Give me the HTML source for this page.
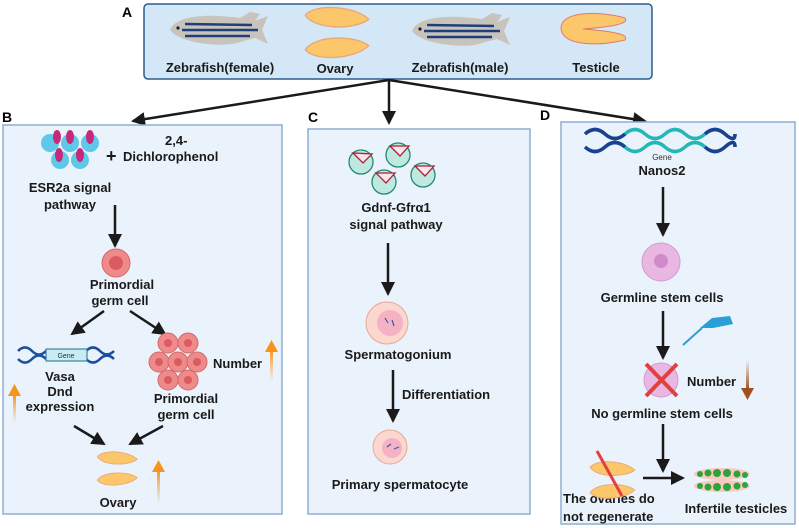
<!DOCTYPE html>
<html><head><meta charset="utf-8"><style>
html,body{margin:0;padding:0;background:#fff;}
svg{display:block;font-family:"Liberation Sans",Arial,sans-serif;font-weight:bold;}
</style></head><body>
<svg width="799" height="528" viewBox="0 0 799 528" xmlns="http://www.w3.org/2000/svg">
<defs>
<marker id="ah2" markerWidth="14" markerHeight="14" refX="12" refY="7" orient="auto" markerUnits="userSpaceOnUse"><path d="M0,0 L14,7 L0,14 z" fill="#1a1a1a"/></marker>
<linearGradient id="og" x1="0" y1="1" x2="0" y2="0"><stop offset="0" stop-color="#f7a53c" stop-opacity="0"/><stop offset="1" stop-color="#f7941d"/></linearGradient>
<linearGradient id="bg" x1="0" y1="0" x2="0" y2="1"><stop offset="0" stop-color="#a0522d" stop-opacity="0"/><stop offset="1" stop-color="#a0501e"/></linearGradient>
<g id="fish">
<path d="M-50,0 C-45,-14 -15,-17 20,-12 L30,-18 L40,-16 L35,-9 L48,-14 L42,0 L48,14 L35,8 L20,12 C5,18 -40,14 -50,0z" fill="#c8c3bb"/>
<path d="M-35,-6 L32,-5 M-38,0 L38,0 M-35,6 L30,6" stroke="#1f3f7a" stroke-width="2.5"/>
<circle cx="-42" cy="-2" r="1.6" fill="#222"/>
</g>
<g id="ov"><path d="M-22,-5 C-15,-14 15,-12 25,-2 C15,6 -15,6 -22,-5z" fill="#fcc66a" stroke="#e9a878" stroke-width="1"/></g>
</defs>

<!-- Panel A -->
<text x="122" y="17" font-size="14">A</text>
<rect x="144" y="4" width="508" height="75" rx="4" fill="#d4e7f7" stroke="#2b5d8c" stroke-width="1.5"/>
<use href="#fish" x="220" y="30"/>
<g transform="translate(335,22) scale(1.35)"><use href="#ov"/></g>
<g transform="translate(335,43) scale(1.35,-1.35)"><use href="#ov"/></g>
<use href="#fish" x="462" y="31"/>
<path d="M561,28 C562,9 605,12 625,18 C630,24 610,27 583,29 C610,31 630,34 625,40 C600,46 562,47 561,28z" fill="#fcc66a" stroke="#e07a6e" stroke-width="1"/>
<g font-size="13" text-anchor="middle" fill="#1a1a1a">
<text x="220" y="72">Zebrafish(female)</text>
<text x="335" y="73">Ovary</text>
<text x="460" y="72">Zebrafish(male)</text>
<text x="596" y="72">Testicle</text>
</g>
<g stroke="#1a1a1a" stroke-width="2.5" fill="none">
<line x1="389" y1="80" x2="133" y2="121" marker-end="url(#ah2)"/>
<line x1="389" y1="80" x2="389" y2="123" marker-end="url(#ah2)"/>
<line x1="389" y1="80" x2="645" y2="121" marker-end="url(#ah2)"/>
</g>

<!-- Panel B -->
<text x="2" y="122" font-size="14">B</text>
<rect x="3" y="125" width="279" height="389" fill="#eaf2fb" stroke="#8eaed3" stroke-width="1.5"/>
<g fill="#5ec8e8">
<circle cx="50" cy="143" r="9"/><circle cx="70" cy="143" r="9"/><circle cx="90" cy="143" r="9"/>
<circle cx="60" cy="160" r="9"/><circle cx="80" cy="160" r="9"/>
</g>
<g fill="#c8287c">
<ellipse cx="57" cy="137" rx="4" ry="7"/><ellipse cx="70" cy="137" rx="4" ry="7"/><ellipse cx="90" cy="137" rx="4" ry="7"/>
<ellipse cx="59" cy="155" rx="4" ry="7"/><ellipse cx="80" cy="155" rx="4" ry="7"/>
</g>
<g font-size="13" fill="#1a1a1a">
<text x="165" y="145">2,4-</text>
<text x="106" y="162" font-size="18">+</text>
<text x="123" y="161">Dichlorophenol</text>
<g text-anchor="middle">
<text x="70" y="192">ESR2a signal</text>
<text x="70" y="209">pathway</text>
<text x="122" y="289">Primordial</text>
<text x="120" y="305">germ cell</text>
<text x="60" y="381">Vasa</text>
<text x="60" y="396">Dnd</text>
<text x="60" y="411">expression</text>
<text x="186" y="403">Primordial</text>
<text x="186" y="419">germ cell</text>
<text x="118" y="507">Ovary</text>
</g>
<text x="213" y="368">Number</text>
</g>
<g stroke="#1a1a1a" stroke-width="2.5">
<line x1="115" y1="205" x2="115" y2="246" marker-end="url(#ah2)"/>
<line x1="104" y1="311" x2="72" y2="334" marker-end="url(#ah2)"/>
<line x1="130" y1="311" x2="165" y2="334" marker-end="url(#ah2)"/>
<line x1="74" y1="426" x2="104" y2="444" marker-end="url(#ah2)"/>
<line x1="163" y1="426" x2="130" y2="444" marker-end="url(#ah2)"/>
</g>
<circle cx="116" cy="263" r="14" fill="#ef8a8a" stroke="#d46a6a"/>
<circle cx="116" cy="263" r="7" fill="#d95c60"/>
<path d="M18,351 q7,-7 14,0 t14,0 M18,359 q7,7 14,0 t14,0 M86,351 q7,-7 14,0 t14,0 M86,359 q7,7 14,0 t14,0" stroke="#1d4fa0" stroke-width="2.5" fill="none"/>
<rect x="46" y="349" width="41" height="12" fill="#c8ecf4" stroke="#1d6f8a"/>
<text x="66" y="358" font-size="7" font-weight="normal" text-anchor="middle" fill="#333">Gene</text>
<g fill="#ef8a8a" stroke="#d46a6a">
<circle cx="168" cy="343" r="10"/><circle cx="188" cy="343" r="10"/>
<circle cx="159" cy="362" r="10"/><circle cx="178" cy="362" r="10"/><circle cx="197" cy="362" r="10"/>
<circle cx="168" cy="380" r="10"/><circle cx="188" cy="380" r="10"/>
</g>
<g fill="#d95c60"><circle cx="168" cy="343" r="4"/><circle cx="188" cy="343" r="4"/><circle cx="159" cy="362" r="4"/><circle cx="178" cy="362" r="4"/><circle cx="197" cy="362" r="4"/><circle cx="168" cy="380" r="4"/><circle cx="188" cy="380" r="4"/></g>
<g transform="translate(116,461) scale(0.85)"><use href="#ov"/></g>
<g transform="translate(116,476) scale(0.85,-0.85)"><use href="#ov"/></g>
<rect x="270" y="350" width="3" height="32" fill="url(#og)"/><path d="M265,352 L278,352 L271.5,340z" fill="#f7941d"/>
<rect x="13" y="395" width="3" height="28" fill="url(#og)"/><path d="M8,396 L21,396 L14.5,384z" fill="#f7941d"/>
<rect x="157" y="470" width="3" height="34" fill="url(#og)"/><path d="M152,472 L165,472 L158.5,460z" fill="#f7941d"/>

<!-- Panel C -->
<text x="308" y="122" font-size="14">C</text>
<rect x="308" y="129" width="222" height="385" fill="#eaf2fb" stroke="#8eaed3" stroke-width="1.5"/>
<g fill="#bfe9e0" stroke="#1f8a72" stroke-width="1.3">
<circle cx="361" cy="162" r="12"/><circle cx="398" cy="155" r="12"/><circle cx="384" cy="182" r="12"/><circle cx="423" cy="175" r="12"/>
</g>
<g fill="#fce4e8" stroke="#a8223c" stroke-width="1.3">
<path d="M353,153 L363,163 L372,154z"/><path d="M390,146 L400,156 L409,146z"/><path d="M376,173 L386,183 L395,173z"/><path d="M415,166 L425,176 L434,166z"/>
</g>
<g font-size="13" fill="#1a1a1a" text-anchor="middle">
<text x="396" y="212">Gdnf-Gfrα1</text>
<text x="396" y="229">signal pathway</text>
<text x="398" y="359">Spermatogonium</text>
<text x="400" y="489">Primary spermatocyte</text>
</g>
<text x="402" y="399" font-size="13" fill="#1a1a1a">Differentiation</text>
<g stroke="#1a1a1a" stroke-width="2.5">
<line x1="388" y1="243" x2="388" y2="294" marker-end="url(#ah2)"/>
<line x1="393" y1="370" x2="393" y2="421" marker-end="url(#ah2)"/>
</g>
<circle cx="387" cy="323" r="21" fill="#fbd7cf" stroke="#e8a898"/>
<circle cx="390" cy="323" r="13" fill="#f4b2c4"/>
<circle cx="390" cy="447" r="17" fill="#fbd7cf" stroke="#e8a898"/>
<circle cx="392" cy="448" r="10" fill="#f4b2c4"/>
<path d="M385,318 l3,5 M392,320 l2,6 M387,447 l4,-3 M394,449 l5,-2" stroke="#3a5aa0" stroke-width="1.2"/>

<!-- Panel D -->
<text x="540" y="120" font-size="14">D</text>
<rect x="561" y="122" width="234" height="402" fill="#eaf2fb" stroke="#8eaed3" stroke-width="1.5"/>
<path d="M585,134 q10,-9 20,0 t20,0 t20,0 t20,0 t20,0 t20,0 t20,0 t10,0 M585,147 q10,9 20,0 t20,0 t20,0 t20,0 t20,0 t20,0 t20,0 t10,0" stroke="#23b7b8" stroke-width="3.5" fill="none"/>
<path d="M585,134 q10,-9 20,0 t20,0 M585,147 q10,9 20,0 t20,0 M705,134 q10,-9 20,0 t10,0 M705,147 q10,9 20,0 t10,0" stroke="#1d3f8f" stroke-width="3.5" fill="none"/>
<text x="662" y="160" font-size="8" font-weight="normal" fill="#333" text-anchor="middle">Gene</text>
<g font-size="13" fill="#1a1a1a" text-anchor="middle">
<text x="662" y="175">Nanos2</text>
<text x="662" y="302">Germline stem cells</text>
<text x="662" y="418">No germline stem cells</text>
<text x="736" y="513">Infertile testicles</text>
</g>
<g font-size="13" fill="#1a1a1a">
<text x="687" y="386">Number</text>
<text x="563" y="503">The ovaries do</text>
<text x="563" y="521">not regenerate</text>
</g>
<g stroke="#1a1a1a" stroke-width="2.5">
<line x1="663" y1="187" x2="663" y2="235" marker-end="url(#ah2)"/>
<line x1="663" y1="311" x2="663" y2="358" marker-end="url(#ah2)"/>
<line x1="663" y1="424" x2="663" y2="471" marker-end="url(#ah2)"/>
<line x1="643" y1="478" x2="683" y2="478" marker-end="url(#ah2)"/>
</g>
<circle cx="661" cy="262" r="19" fill="#e8b8e2" stroke="#d49ace"/>
<circle cx="661" cy="261" r="7" fill="#d08ac8"/>
<path d="M700,328 l12,-10 l18,-2 l3,8 l-20,4 z" fill="#2a9fd6"/><line x1="683" y1="345" x2="702" y2="328" stroke="#2a9fd6" stroke-width="2"/>
<circle cx="661" cy="380" r="17" fill="#e8b8e2" stroke="#d49ace"/>
<path d="M646,364 L677,396 M677,364 L646,396" stroke="#e04040" stroke-width="4"/>
<rect x="746" y="360" width="3" height="30" fill="url(#bg)"/><path d="M741,388 L754,388 L747.5,400z" fill="#a0501e"/>
<g transform="translate(611,472) scale(0.95)"><use href="#ov"/></g>
<g transform="translate(611,488) scale(0.95,-0.95)"><use href="#ov"/></g>
<line x1="597" y1="451" x2="622" y2="496" stroke="#e04040" stroke-width="3"/>
<ellipse cx="722" cy="474" rx="28" ry="6" fill="#f9c8c0"/><ellipse cx="722" cy="486" rx="28" ry="6" fill="#f9c8c0"/>
<g fill="#2ea33a">
<circle cx="700" cy="474" r="3"/><circle cx="708" cy="473" r="3.5"/><circle cx="717" cy="473" r="4"/><circle cx="727" cy="473" r="4"/><circle cx="737" cy="474" r="3.5"/><circle cx="745" cy="475" r="3"/>
<circle cx="700" cy="486" r="3"/><circle cx="708" cy="487" r="3.5"/><circle cx="717" cy="487" r="4"/><circle cx="727" cy="487" r="4"/><circle cx="737" cy="486" r="3.5"/><circle cx="745" cy="485" r="3"/>
</g>
</svg>
</body></html>
